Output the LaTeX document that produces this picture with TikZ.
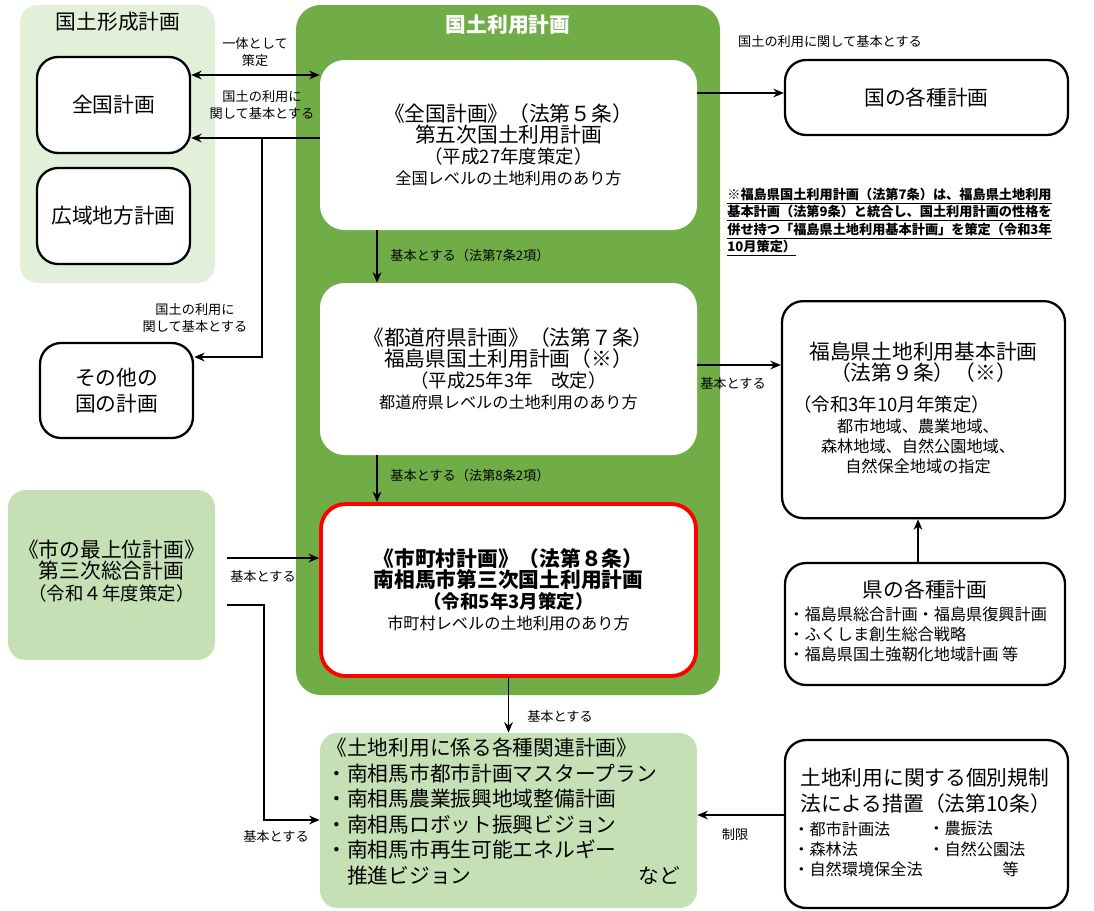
\documentclass[tikz,border=0pt]{standalone}
\usepackage{fontspec}
\setmainfont{Noto Sans CJK JP}
\usetikzlibrary{arrows.meta}
\definecolor{dg}{RGB}{112,173,71}
\definecolor{lg}{RGB}{197,224,180}
\definecolor{vlg}{RGB}{226,240,217}
\newcommand\FA{\fontsize{11.8}{14.5}\selectfont}
\newcommand\FB{\fontsize{10.5}{13}\selectfont}
\newcommand\FC{\fontsize{9.2}{11.5}\selectfont}
\newcommand\FS{\fontsize{7.5}{9.8}\selectfont}
\begin{document}
\begin{tikzpicture}[x=0.02cm,y=-0.02cm,
 wbox/.style={draw=black,line width=1.3pt,rounded corners=12pt,fill=white,align=center,inner sep=0pt},
 lab/.style={font=\FS,align=center,inner sep=1pt},
 arr/.style={-{Stealth[length=6pt,width=5pt]},line width=0.7pt}]
\useasboundingbox (0,0) rectangle (1094,910);
% panels
\fill[vlg,rounded corners=10pt] (20,5) rectangle (215,283);
\node[font=\FA] (t1) at (118,22) {国土形成計画};
\fill[dg,rounded corners=14pt] (296,5) rectangle (720,695);
\node[font=\FA\bfseries,text=white] (t2) at (508,25) {国土利用計画};
% left boxes
\node[wbox,minimum width=153*0.02cm,minimum height=96*0.02cm,font=\FA] (zk) at (113.5,105) {全国計画};
\node[wbox,minimum width=153*0.02cm,minimum height=96*0.02cm,font=\FA] (kc) at (113.5,216) {広域地方計画};
\node[wbox,minimum width=153*0.02cm,minimum height=95*0.02cm,font=\FA] (ot) at (116.5,390.5) {その他の\\国の計画};
% main boxes
\node[draw=none,fill=white,rounded corners=14pt,minimum width=377*0.02cm,minimum height=170*0.02cm,align=center,inner sep=0pt] (b1) at (508.5,145) {\FA《全国計画》（法第５条）\\\FA 第五次国土利用計画\\\FB（平成27年度策定）\\\FC 全国レベルの土地利用のあり方};
\node[draw=none,fill=white,rounded corners=14pt,minimum width=377*0.02cm,minimum height=172*0.02cm,align=center,inner sep=0pt] (b2) at (508.5,369) {\FA《都道府県計画》（法第７条）\\\FA 福島県国土利用計画（※）\\\FB（平成25年3年　改定）\\\FC 都道府県レベルの土地利用のあり方};
\node[draw=red,line width=2.2pt,fill=white,rounded corners=14pt,minimum width=375*0.02cm,minimum height=172*0.02cm,align=center,inner sep=0pt] (b3) at (508.5,590) {\FA\bfseries《市町村計画》（法第８条）\\\FA\bfseries 南相馬市第三次国土利用計画\\\FB\bfseries（令和5年3月策定）\\\FC 市町村レベルの土地利用のあり方};
% right boxes
\node[wbox,minimum width=283*0.02cm,minimum height=75*0.02cm,font=\FA] (kk) at (926.5,97.5) {国の各種計画};
\node[wbox,minimum width=283*0.02cm,minimum height=217*0.02cm,anchor=north] (fk) at (923.5,300) {};
\node[align=center,anchor=north,inner sep=0pt] (fkt) at (923.5,342) {\FA 福島県土地利用基本計画\\\FA（法第９条）（※）};
\node[align=left,anchor=north west,inner sep=0pt,font=\FB] (fkd) at (793,395) {（令和3年10月年策定）};
\node[align=center,anchor=north,inner sep=0pt,font=\FC] (fke) at (918,418) {都市地域、農業地域、\\森林地域、自然公園地域、\\自然保全地域の指定};
\node[wbox,minimum width=280*0.02cm,minimum height=122*0.02cm] (kn) at (925,624) {};
\node[anchor=north,inner sep=0pt,font=\FA] (knt) at (925,580) {県の各種計画};
\node[anchor=north west,align=left,inner sep=0pt,font=\FC] (knl) at (788,606) {・福島県総合計画・福島県復興計画\\・ふくしま創生総合戦略\\・福島県国土強靭化地域計画 等};
\node[wbox,minimum width=283*0.02cm,minimum height=168*0.02cm] (kb) at (926.5,824) {};
\node[anchor=north west,align=left,inner sep=0pt,font=\FA] (kbt) at (800,768) {土地利用に関する個別規制\\法による措置（法第10条）};
\node[anchor=north west,align=left,inner sep=0pt,font=\FC] (kbl) at (793,821) {・都市計画法\\・森林法\\・自然環境保全法};
\node[anchor=north west,align=left,inner sep=0pt,font=\FC] (kbr) at (928,821) {・農振法\\・自然公園法\\\hspace*{4.6em}等};
% green boxes
\node[fill=lg,rounded corners=10pt,minimum width=207*0.02cm,minimum height=170*0.02cm,inner sep=0pt] (si) at (111.5,575) {};
\node[align=center,inner sep=0pt,anchor=north] (sit) at (111.5,540) {\FA《市の最上位計画》\\\FA 第三次総合計画\\\FB（令和４年度策定）};
\node[fill=lg,rounded corners=10pt,minimum width=377*0.02cm,minimum height=175*0.02cm,inner sep=0pt] (bt) at (508.5,820.5) {};
\node[anchor=north west,align=left,inner sep=0pt,font=\FA] (btl) at (326,738) {《土地利用に係る各種関連計画》\\・南相馬市都市計画マスタープラン\\・南相馬農業振興地域整備計画\\・南相馬ロボット振興ビジョン\\・南相馬市再生可能エネルギー\\\hspace*{1em}推進ビジョン};
\node[anchor=north west,inner sep=0pt,font=\FA] (btn) at (638,866) {など};
% note
\node[anchor=north west,align=left,inner sep=0pt,font=\FS\bfseries] (note) at (727,188) {\underline{※福島県国土利用計画（法第7条）は、福島県土地利用}\\\underline{基本計画（法第9条）と統合し、国土利用計画の性格を}\\\underline{併せ持つ「福島県土地利用基本計画」を策定（令和3年}\\\underline{10月策定）}};
% connectors
\coordinate (a1) at (190,75); \coordinate (a2) at (320,75);
\draw[arr,{Stealth[length=6pt,width=5pt]}-{Stealth[length=6pt,width=5pt]}] (zk.east|-a1) -- (b1.west|-a2);
\node[lab] (l1) at (255,52) {一体として\\策定};
\coordinate (c1) at (320,138); \coordinate (c2) at (262,138); \coordinate (c3) at (262,357);
\draw[arr] (b1.west|-c1) -- (zk.east|-c1);
\node[lab] (l2) at (262,105) {国土の利用に\\関して基本とする};
\draw[arr] (c2) -- (c3) -- (ot.east|-c3);
\node[lab] (l3) at (195,318) {国土の利用に\\関して基本とする};
\coordinate (d1) at (697,93);
\draw[arr] (b1.east|-d1) -- (kk.west|-d1);
\node[lab] (l4) at (830,42) {国土の利用に関して基本とする};
\coordinate (e1) at (377,232);
\draw[arr] (b1.south-|e1) -- (b2.north-|e1);
\node[lab] (l5) at (470,255) {基本とする（法第7条2項）};
\draw[arr] (b2.south-|e1) -- (b3.north-|e1);
\node[lab] (l6) at (470,475) {基本とする（法第8条2項）};
\coordinate (f1) at (697,365);
\draw[arr] (b2.east|-f1) -- (fk.west|-f1);
\node[lab] (l7) at (733,383) {基本とする};
\coordinate (k1) at (918,520);
\draw[arr] (kn.north-|k1) -- (fk.south-|k1);
\coordinate (g1) at (227,558);
\draw[arr] (g1) -- (b3.west|-g1);
\node[lab] (l8) at (263,576) {基本とする};
\coordinate (h1) at (227,605); \coordinate (h2) at (264,605); \coordinate (h3) at (264,820);
\draw[arr] (h1) -- (h2) -- (h3) -- (bt.west|-h3);
\node[lab] (l9) at (276,836) {基本とする};
\draw[arr] (b3.south) -- (bt.north);
\node[lab] (l10) at (560,716) {基本とする};
\coordinate (j1) at (785,815);
\draw[arr] (kb.west|-j1) -- (bt.east|-j1);
\node[lab] (l11) at (735,835) {制限};
\end{tikzpicture}
\end{document}
